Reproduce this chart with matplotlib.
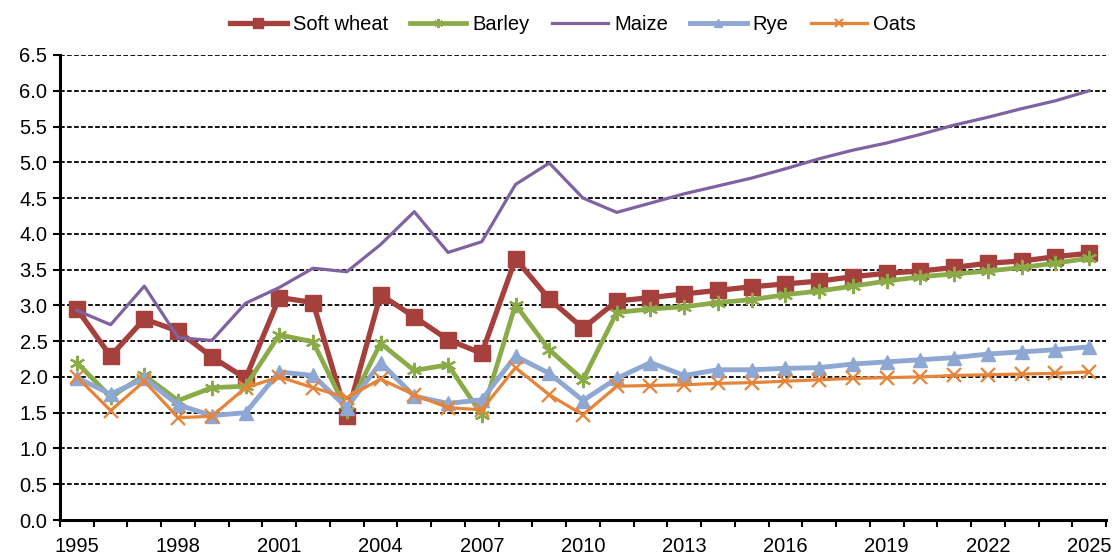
import numpy as np
import matplotlib
matplotlib.use("Agg")
import matplotlib.pyplot as plt

plt.rcParams['font.family'] = ['Liberation Sans', 'DejaVu Sans']

years = list(range(1995, 2026))

soft_wheat = [2.95, 2.29, 2.81, 2.64, 2.28, 1.98, 3.11, 3.04, 1.45, 3.15,
              2.84, 2.52, 2.33, 3.65, 3.09, 2.68, 3.06, 3.11, 3.16, 3.21,
              3.26, 3.30, 3.34, 3.40, 3.45, 3.48, 3.53, 3.59, 3.62, 3.68, 3.73]
barley = [2.20, 1.72, 2.02, 1.67, 1.85, 1.87, 2.59, 2.49, 1.53, 2.47,
          2.09, 2.17, 1.47, 3.01, 2.38, 1.96, 2.90, 2.95, 2.98, 3.04,
          3.08, 3.15, 3.20, 3.27, 3.34, 3.40, 3.44, 3.48, 3.53, 3.59, 3.66]
maize = [2.93, 2.73, 3.27, 2.55, 2.51, 3.03, 3.25, 3.52, 3.47, 3.85,
         4.31, 3.74, 3.89, 4.69, 4.99, 4.50, 4.30, 4.43, 4.56, 4.67,
         4.78, 4.91, 5.05, 5.17, 5.27, 5.39, 5.52, 5.63, 5.75, 5.86, 6.00]
rye = [1.99, 1.76, 1.98, 1.61, 1.46, 1.50, 2.07, 2.02, 1.57, 2.20,
       1.73, 1.63, 1.68, 2.29, 2.05, 1.67, 1.98, 2.20, 2.02, 2.10,
       2.10, 2.12, 2.13, 2.18, 2.21, 2.24, 2.27, 2.32, 2.35, 2.38, 2.42]
oats = [2.00, 1.53, 1.94, 1.43, 1.45, 1.85, 2.00, 1.85, 1.71, 1.97,
        1.75, 1.57, 1.54, 2.13, 1.75, 1.47, 1.87, 1.88, 1.89, 1.91,
        1.92, 1.94, 1.96, 1.98, 1.99, 2.00, 2.02, 2.03, 2.04, 2.05, 2.07]

# name, values, colour, marker, line width, marker size, marker edge width
series = [
    ("Soft wheat", soft_wheat, '#A6403D', 's', 3.8, 11, 1.0),
    ("Barley", barley, '#8AAB47', (6, 2, 0), 3.4, 11, 1.6),
    ("Maize", maize, '#7F62A1', None, 2.3, 0, 1.0),
    ("Rye", rye, '#8EA7D3', '^', 3.5, 10, 1.0),
    ("Oats", oats, '#E6843A', 'x', 2.3, 10, 1.6),
]

fig = plt.figure(figsize=(11.18, 5.56), dpi=100)
ax = fig.add_axes([60 / 1118, 1 - 520 / 556, 1046 / 1118, 465 / 556])

x = np.arange(len(years))
for name, vals, col, mk, lw, ms, mew in series:
    ax.plot(x, vals, color=col, lw=lw, marker=mk, markersize=ms,
            markeredgewidth=mew, label=name, solid_joinstyle='round')

ax.set_xlim(-0.5, len(years) - 0.5)
ax.set_ylim(0, 6.5)
yt = np.arange(0, 6.51, 0.5)
ax.set_yticks(yt)
ax.set_yticklabels([f"{v:.1f}" for v in yt], fontsize=14.5)
ax.yaxis.grid(True, color='black', linestyle=(0, (2.6, 1.3)), lw=1.3)
ax.set_axisbelow(True)

# ticks between categories, labels every 3 years on category centres
ax.set_xticks(np.arange(-0.5, len(years), 1.0))
ax.set_xticklabels([])
ax.set_xticks(x[::3], minor=True)
ax.set_xticklabels([str(y) for y in years[::3]], minor=True, fontsize=14.5)
ax.tick_params(axis='x', which='major', direction='out', length=5, width=1.5)
ax.tick_params(axis='x', which='minor', length=0, pad=12)
ax.tick_params(axis='y', direction='out', length=5, width=1.5, pad=4)

for s in ['top', 'right']:
    ax.spines[s].set_visible(False)
ax.spines['left'].set_linewidth(2.2)
ax.spines['bottom'].set_linewidth(2.2)

ax.legend(loc='center', bbox_to_anchor=(573 / 1118, 1 - 25 / 556),
          bbox_transform=fig.transFigure, ncol=5, frameon=False,
          fontsize=14.5, handlelength=2.8, columnspacing=1.1,
          handletextpad=0.3, markerscale=0.6)

fig.savefig("out.png", dpi=100)
